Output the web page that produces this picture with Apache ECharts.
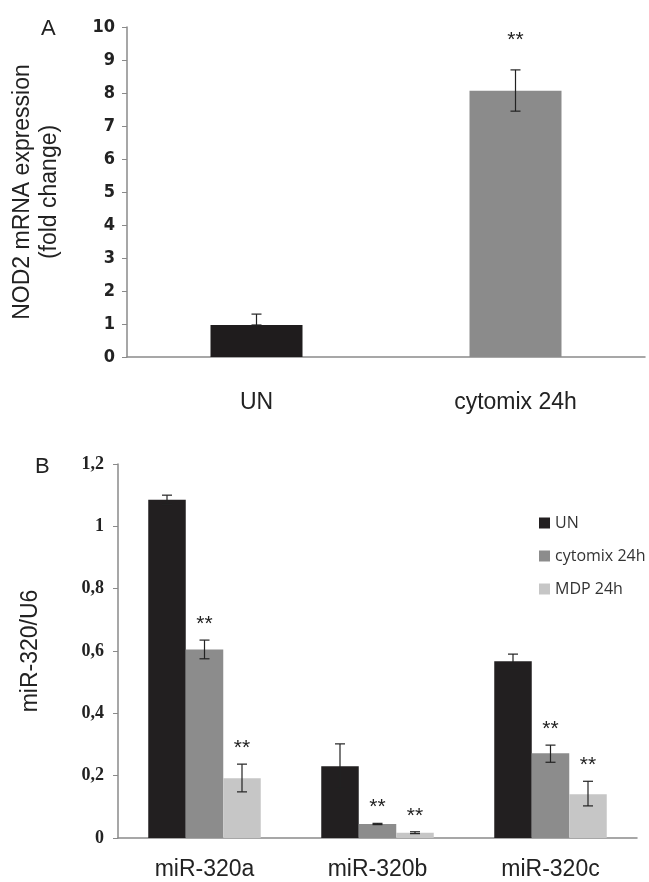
<!DOCTYPE html>
<html><head><meta charset="utf-8">
<script src="https://cdn.jsdelivr.net/npm/echarts@6/dist/echarts.min.js"></script>
<style>html,body{margin:0;padding:0;background:#fff}#c{width:649px;height:882px}</style>
</head><body><div id="c"></div>
<script>
// Panel A data
const catsA = ['UN', 'cytomix 24h'];
const valsA = [0.97, 8.07];
const errLowA = [0.97, 7.45];
const errHighA = [1.30, 8.70];
const starsA = ['', '**'];
const ticksA = [0, 1, 2, 3, 4, 5, 6, 7, 8, 9, 10];

// Panel B data
const catsB = ['miR-320a', 'miR-320b', 'miR-320c'];
const seriesNamesB = ['UN', 'cytomix 24h', 'MDP 24h'];
const valsUN = [1.085, 0.230, 0.567];
const valsCyto = [0.605, 0.045, 0.272];
const valsMDP = [0.192, 0.017, 0.140];
const errUN = [[1.070, 1.100], [0.160, 0.302], [0.545, 0.590]];
const errCyto = [[0.575, 0.635], [0.043, 0.047], [0.243, 0.298]];
const errMDP = [[0.148, 0.237], [0.014, 0.020], [0.103, 0.182]];
const starsCyto = ['**', '**', '**'];
const starsMDP = ['**', '**', '**'];
const ticksB = ['0', '0,2', '0,4', '0,6', '0,8', '1', '1,2'];

const colA = ['#1f1c1d', '#8b8b8b'];
const colB = ['#221f20', '#8c8c8c', '#c6c6c6'];
const BW_B = 37.5;

function errItem(offsetIdx, barW, starOff, capW) {
  return function (params, api) {
    const c = api.value(0), lo = api.value(1), hi = api.value(2);
    const star = api.value(3);
    const base = api.coord([c, 0]);
    const x = base[0] + offsetIdx * barW;
    const yl = api.coord([c, lo])[1];
    const yh = api.coord([c, hi])[1];
    const st = {stroke: '#222', lineWidth: 1.2};
    const children = [
      {type: 'line', shape: {x1: x, y1: yl, x2: x, y2: yh}, style: st},
      {type: 'line', shape: {x1: x - capW, y1: yh, x2: x + capW, y2: yh}, style: st},
      {type: 'line', shape: {x1: x - capW, y1: yl, x2: x + capW, y2: yl}, style: st}
    ];
    if (star) {
      children.push({type: 'text', style: {text: star, x: x, y: yh - starOff, align: 'center', verticalAlign: 'middle', font: '21px "Liberation Sans", Arial, sans-serif', fill: '#222'}});
    }
    return {type: 'group', children: children};
  };
}

const chart = echarts.init(document.getElementById('c'), null, {renderer: 'canvas'});
chart.setOption({
  animation: false,
  backgroundColor: '#fff',
  grid: [
    {left: 127, top: 27, width: 518, height: 330},
    {left: 118, top: 464, width: 519, height: 374}
  ],
  title: [
    {text: 'A', left: 36, top: 13, textStyle: {fontSize: 22, fontWeight: 'normal', color: '#222', fontFamily: 'Liberation Sans'}},
    {text: 'B', left: 30, top: 451, textStyle: {fontSize: 22, fontWeight: 'normal', color: '#222', fontFamily: 'Liberation Sans'}}
  ],
  legend: {
    data: seriesNamesB,
    orient: 'vertical',
    left: 534, top: 510,
    itemWidth: 11, itemHeight: 11, itemGap: 17,
    icon: 'rect',
    textStyle: {fontSize: 16, color: '#333', fontFamily: '"Open Sans", "Liberation Sans", sans-serif'}
  },
  xAxis: [
    {type: 'category', gridIndex: 0, data: catsA,
     axisLine: {lineStyle: {color: '#8a8a8a', width: 1.5}}, axisTick: {show: false},
     axisLabel: {margin: 34, fontSize: 23, color: '#222', fontFamily: '"Liberation Sans", Arial'}},
    {type: 'category', gridIndex: 1, data: catsB,
     axisLine: {lineStyle: {color: '#8a8a8a', width: 1.5}}, axisTick: {show: false},
     axisLabel: {margin: 20, fontSize: 23, color: '#222', fontFamily: '"Liberation Sans", Arial'}}
  ],
  yAxis: [
    {type: 'value', gridIndex: 0, min: 0, max: 10, interval: 1,
     name: 'NOD2 mRNA expression\n(fold change)', nameLocation: 'middle', nameGap: 64, nameRotate: 90,
     nameTextStyle: {fontSize: 23, color: '#222', lineHeight: 27, fontFamily: '"Liberation Sans", Arial'},
     axisLine: {show: true, lineStyle: {color: '#8a8a8a', width: 1.5}},
     axisTick: {show: true, length: 5, lineStyle: {color: '#8a8a8a'}},
     splitLine: {show: false},
     axisLabel: {margin: 12, fontSize: 18, fontWeight: 'bold', color: '#222', fontFamily: '"Liberation Sans Narrow", "DejaVu Sans Condensed", Arial',
       formatter: v => String(ticksA[Math.round(v)])}},
    {type: 'value', gridIndex: 1, min: 0, max: 1.2, interval: 0.2,
     name: 'miR-320/U6', nameLocation: 'middle', nameGap: 76, nameRotate: 90,
     nameTextStyle: {fontSize: 23, color: '#222', fontFamily: '"Liberation Sans", Arial'},
     axisLine: {show: true, lineStyle: {color: '#8a8a8a', width: 1.5}},
     axisTick: {show: true, length: 5, lineStyle: {color: '#8a8a8a'}},
     splitLine: {show: false},
     axisLabel: {margin: 14, fontSize: 18, fontWeight: 'bold', color: '#222', fontFamily: '"Liberation Serif", "Times New Roman", serif',
       formatter: v => ticksB[Math.round(v / 0.2)]}}
  ],
  series: [
    {type: 'bar', xAxisIndex: 0, yAxisIndex: 0, barWidth: 92,
     data: valsA.map((v, i) => ({value: v, itemStyle: {color: colA[i]}}))},
    {type: 'custom', xAxisIndex: 0, yAxisIndex: 0, z: 5,
     renderItem: errItem(0, 0, 30, 5),
     data: catsA.map((c, i) => [i, errLowA[i], errHighA[i], starsA[i]])},
    {name: seriesNamesB[0], type: 'bar', xAxisIndex: 1, yAxisIndex: 1, barWidth: BW_B, barGap: '0%',
     itemStyle: {color: colB[0]}, data: valsUN},
    {name: seriesNamesB[1], type: 'bar', xAxisIndex: 1, yAxisIndex: 1, barWidth: BW_B, barGap: '0%',
     itemStyle: {color: colB[1]}, data: valsCyto},
    {name: seriesNamesB[2], type: 'bar', xAxisIndex: 1, yAxisIndex: 1, barWidth: BW_B, barGap: '0%',
     itemStyle: {color: colB[2]}, data: valsMDP},
    {type: 'custom', xAxisIndex: 1, yAxisIndex: 1, z: 5,
     renderItem: errItem(-1, BW_B, 16, 5),
     data: catsB.map((c, i) => [i, errUN[i][0], errUN[i][1], ''])},
    {type: 'custom', xAxisIndex: 1, yAxisIndex: 1, z: 5,
     renderItem: errItem(0, BW_B, 16, 5),
     data: catsB.map((c, i) => [i, errCyto[i][0], errCyto[i][1], starsCyto[i]])},
    {type: 'custom', xAxisIndex: 1, yAxisIndex: 1, z: 5,
     renderItem: errItem(1, BW_B, 16, 5),
     data: catsB.map((c, i) => [i, errMDP[i][0], errMDP[i][1], starsMDP[i]])}
  ]
});
</script></body></html>
